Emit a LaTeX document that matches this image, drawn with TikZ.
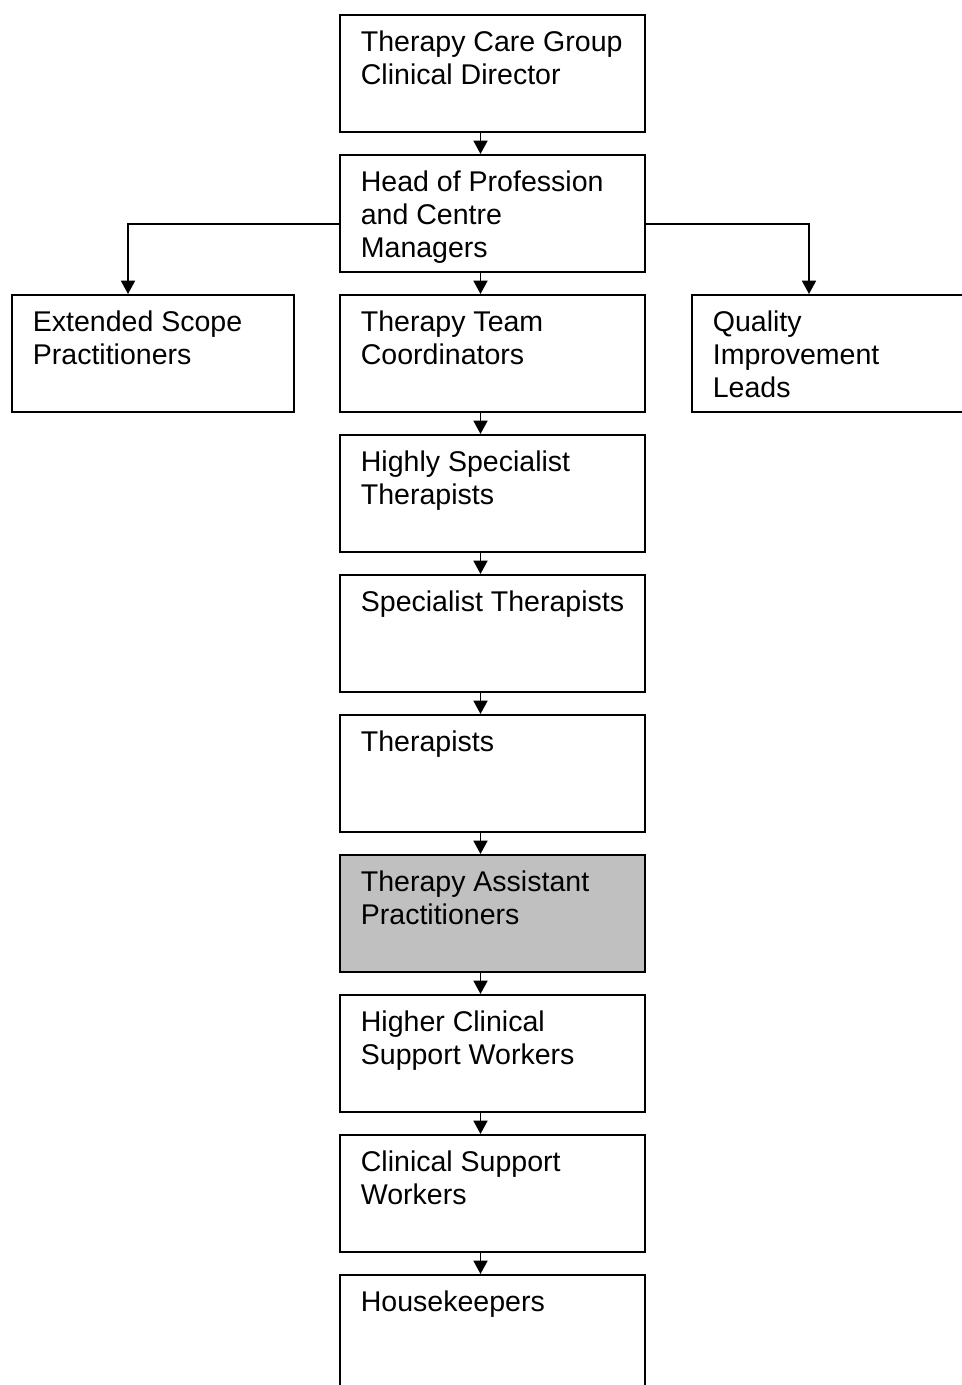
\documentclass[tikz,border=0pt]{standalone}
\usepackage{fontspec}
\setmainfont{Liberation Sans}
\usetikzlibrary{arrows.meta,calc}

\newlength\px
\setlength\px{0.75pt}
\newcommand\orgfont{\fontsize{21.4pt}{24.75pt}\selectfont}
\definecolor{assistgrey}{RGB}{192,192,192}

\tikzset{
  orgbox/.style={draw, line width=1.3pt, inner sep=0pt, anchor=north west,
    execute at begin node={\begin{minipage}[t][117\px][t]{#1}\orgfont\raggedright\leftskip=21\px\rule{0pt}{37\px}},
    execute at end node={\end{minipage}}},
  orgbox/.default=305\px,
  conn/.style={line width=1.2pt, -{Triangle[length=10pt,width=10.5pt]}},
}

\begin{document}
\begin{tikzpicture}[x=\px, y=-\px]
			\useasboundingbox (0,0) rectangle (962,1385);
			\clip (0,0) rectangle (962,1385);
			% main column
			\node[orgbox] (tcg) at (339,14) {Therapy Care Group\\Clinical Director};
			\node[orgbox] (hop) at (339,154) {Head of Profession\\and Centre\\Managers};
			\node[orgbox] (ttc) at (339,294) {Therapy Team\\Coordinators};
			\node[orgbox] (hst) at (339,434) {Highly Specialist\\Therapists};
			\node[orgbox] (spt) at (339,574) {Specialist Therapists};
			\node[orgbox] (thr) at (339,714) {Therapists};
			\node[orgbox, fill=assistgrey] (tap) at (339,854) {Therapy Assistant\\Practitioners};
			\node[orgbox] (hcsw) at (339,994) {Higher Clinical\\Support Workers};
			\node[orgbox] (csw) at (339,1134) {Clinical Support\\Workers};
			\node[orgbox] (hk) at (339,1274) {Housekeepers};
			% side boxes
			\node[orgbox=282\px] (esp) at (11,294) {Extended Scope\\Practitioners};
			\node[orgbox=282\px] (qil) at (691,294) {Quality\\Improvement\\Leads};
			\coordinate (spine) at (480.5,0);
			\coordinate (split) at (0,224);
			\draw[conn] (tcg.south -| spine) -- (hop.north -| spine);
			\draw[conn] (hop.south -| spine) -- (ttc.north -| spine);
			\draw[conn] (ttc.south -| spine) -- (hst.north -| spine);
			\draw[conn] (hst.south -| spine) -- (spt.north -| spine);
			\draw[conn] (spt.south -| spine) -- (thr.north -| spine);
			\draw[conn] (thr.south -| spine) -- (tap.north -| spine);
			\draw[conn] (tap.south -| spine) -- (hcsw.north -| spine);
			\draw[conn] (hcsw.south -| spine) -- (csw.north -| spine);
			\draw[conn] (csw.south -| spine) -- (hk.north -| spine);
			\draw[conn] (hop.west |- split) -| ($(esp.north west)+(117,0)$);
			\draw[conn] (hop.east |- split) -| ($(qil.north west)+(118,0)$);
			\end{tikzpicture}
\end{document}
